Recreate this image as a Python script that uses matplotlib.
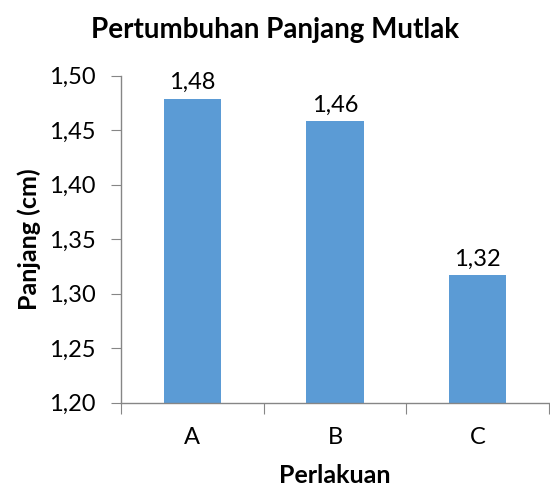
import matplotlib
matplotlib.use("Agg")
import matplotlib.pyplot as plt

categories = ["A", "B", "C"]
values = [1.479, 1.458, 1.317]
value_labels = ["1,48", "1,46", "1,32"]
yticks = [1.20, 1.25, 1.30, 1.35, 1.40, 1.45, 1.50]
ytick_labels = ["1,20", "1,25", "1,30", "1,35", "1,40", "1,45", "1,50"]

plt.rcParams['font.family'] = ['Lato', 'DejaVu Sans']
fig = plt.figure(figsize=(5.5, 4.88), dpi=100)
ax = fig.add_axes([121/550, 1-402.5/488, (549-121)/550, (402.5-75.7)/488])

x = list(range(len(categories)))
bars = ax.bar(x, [v - 1.20 for v in values], bottom=1.20, width=0.40, color="#5B9BD5", zorder=2)
for xi, v, lab in zip(x, values, value_labels):
    ax.annotate(lab, (xi, v), xytext=(0, 4), textcoords="offset points",
                ha="center", va="bottom", fontsize=17, color="black")

ax.set_xlim(-0.5, len(categories) - 0.5)
ax.set_ylim(1.20, 1.50)
ax.set_yticks(yticks)
ax.set_yticklabels(ytick_labels, fontsize=17)
ax.set_xticks([i - 0.5 for i in range(len(categories) + 1)])
ax.set_xticklabels([""] * (len(categories) + 1))
ax.set_xticks(x, minor=True)
ax.set_xticklabels(categories, minor=True, fontsize=17)
ax.tick_params(axis="x", which="minor", length=0, pad=18)
ax.tick_params(axis="x", which="major", length=8, color="#868686", direction="out")
ax.tick_params(axis="y", length=7, color="#868686", direction="out", pad=11)

for s in ["top", "right"]:
    ax.spines[s].set_visible(False)
for s in ["left", "bottom"]:
    ax.spines[s].set_color("#868686")
    ax.spines[s].set_linewidth(1.0)

ax.set_xlabel("Perlakuan", fontsize=18, fontweight="bold", labelpad=11)
ax.set_ylabel("Panjang (cm)", fontsize=18, fontweight="bold", labelpad=6)
fig.text(0.5, 1-30/488, "Pertumbuhan Panjang Mutlak", ha="center", va="center",
         fontsize=20, fontweight="bold")

fig.savefig("out.png", dpi=100)
